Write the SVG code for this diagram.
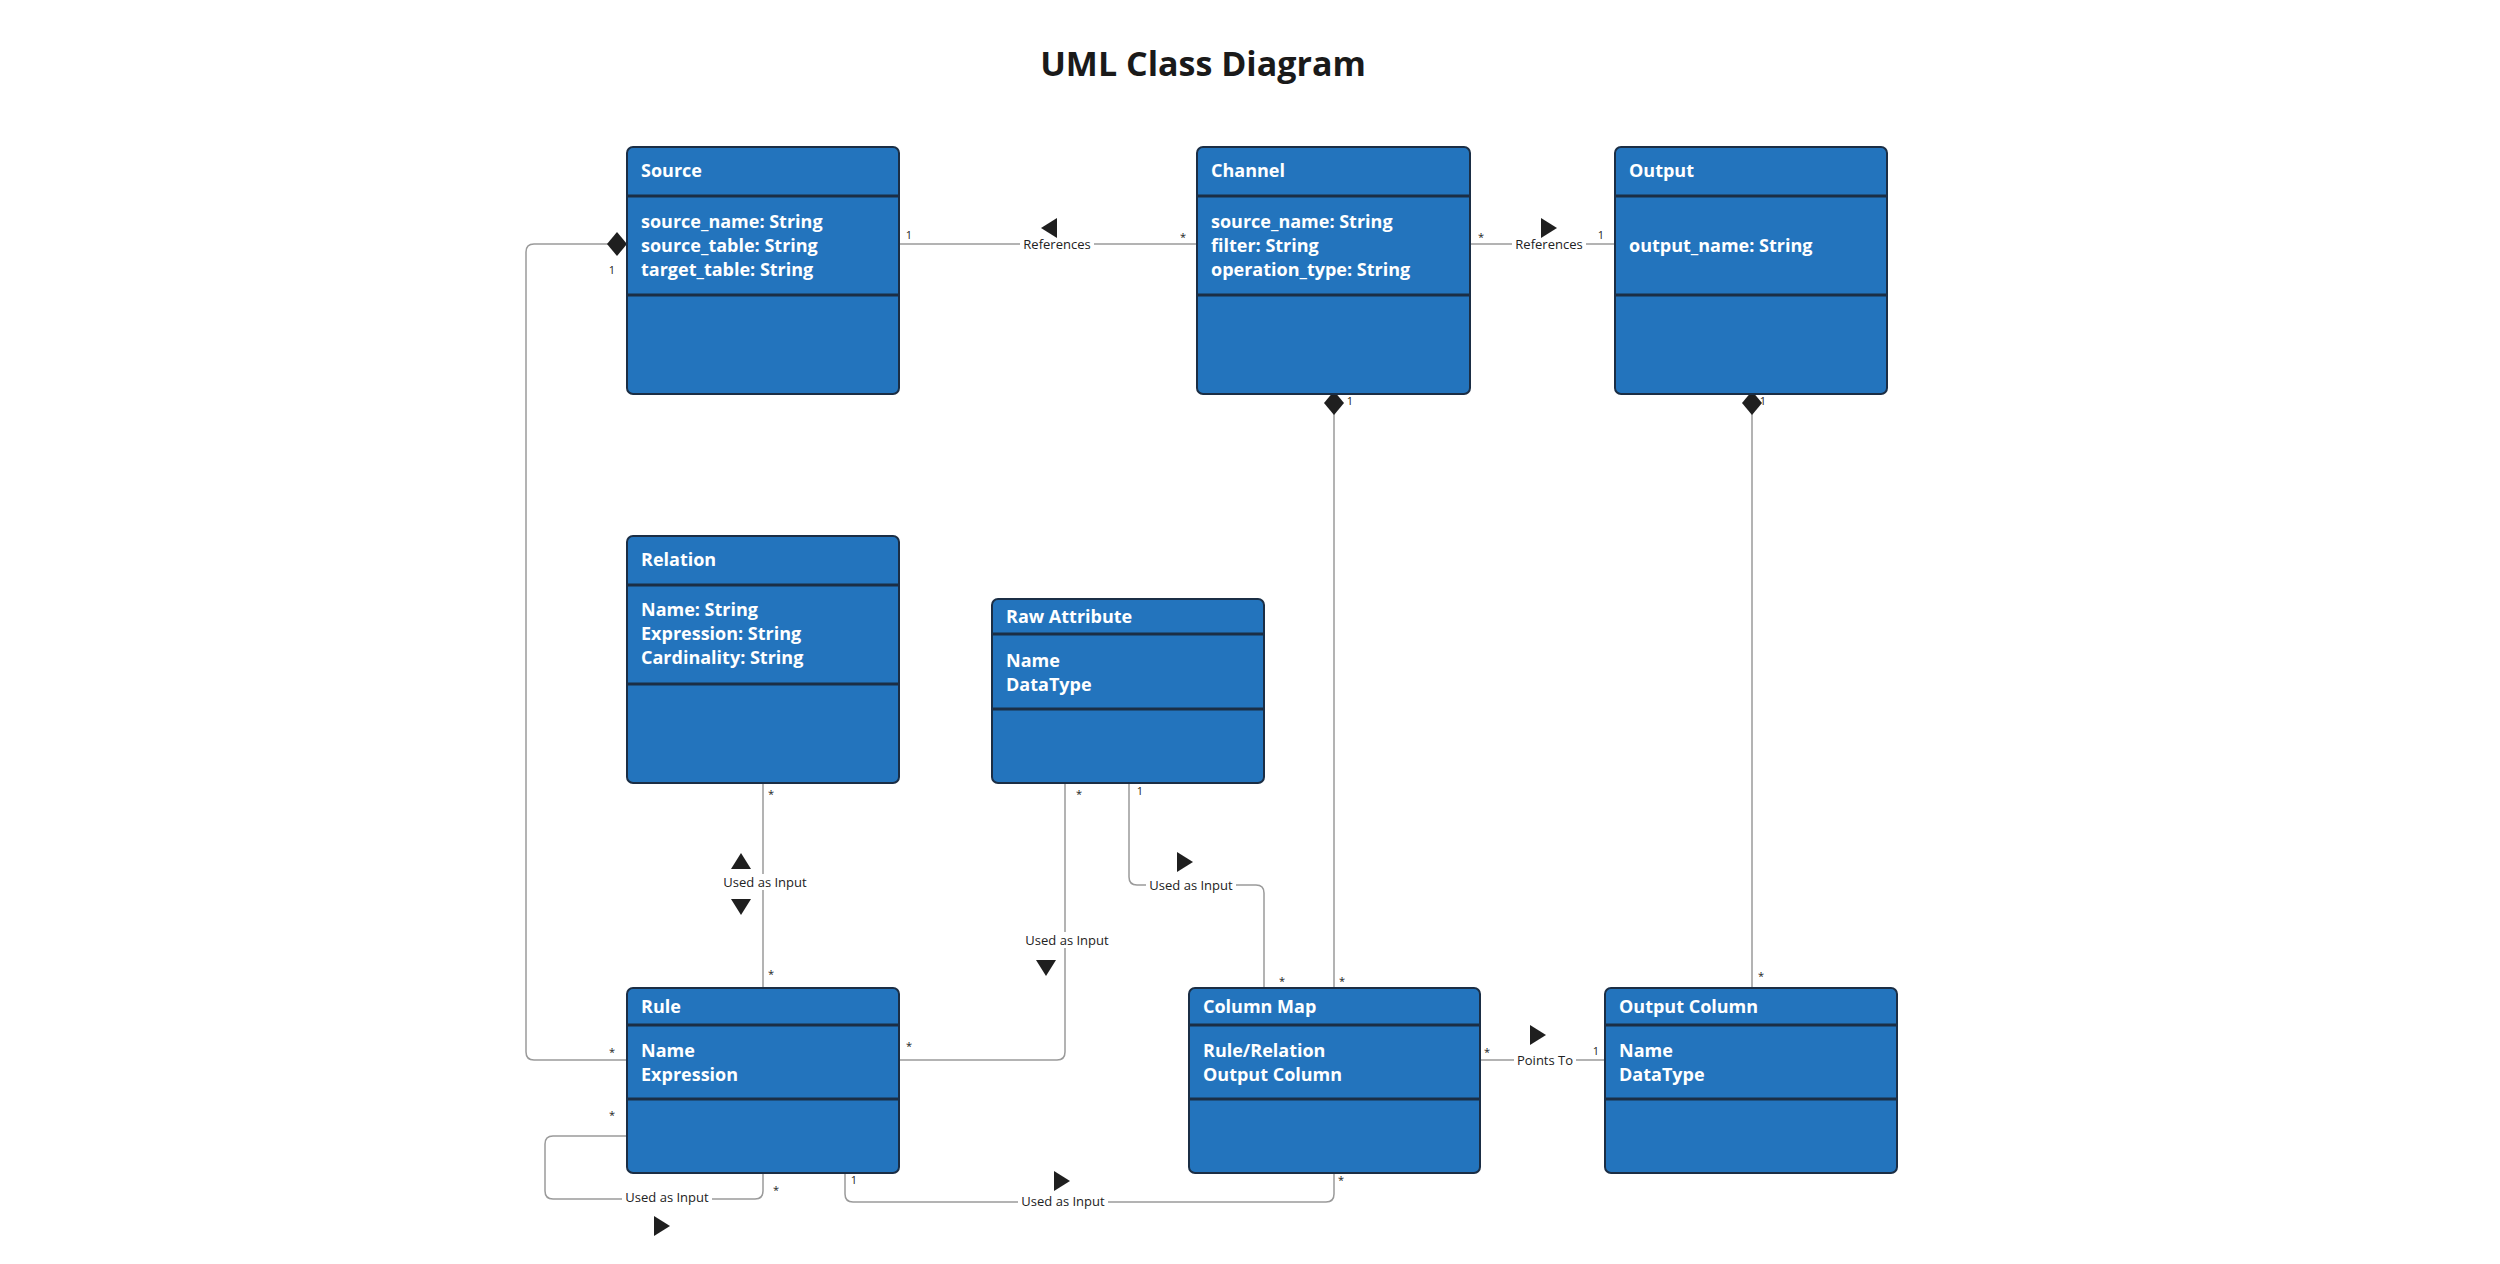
<svg xmlns="http://www.w3.org/2000/svg" width="2500" height="1264" viewBox="0 0 2500 1264">
<style>
.box{fill:#2374bd;stroke:#1b2e45;stroke-width:2}
.sep{stroke:#1b2e45;stroke-width:3}
.t{font-family:"Open Sans","Noto Sans",sans-serif;font-weight:bold;fill:#fff;font-size:18px}
.c{fill:none;stroke:#9a9a9a;stroke-width:1.5}
.lb{font-family:"Open Sans","Noto Sans",sans-serif;font-size:13px;fill:#222;text-anchor:middle}
.m{font-family:"Open Sans","Noto Sans",sans-serif;font-size:11px;fill:#222;text-anchor:middle}
.ar{fill:#1f1f1f}
.bg{fill:#fff}
</style>
<rect width="2500" height="1264" fill="#fff"/>
<text x="1203" y="76" font-family="Open Sans,Noto Sans,sans-serif" font-weight="bold" font-size="34" text-anchor="middle" fill="#1a1a1a">UML Class Diagram</text>
<g id="connectors">
<path class="c" d="M899 244H1197"/>
<path class="c" d="M1470 244H1615"/>
<path class="c" d="M617 244H534Q526 244 526 252V1052Q526 1060 534 1060H627"/>
<path class="c" d="M763 783V988"/>
<path class="c" d="M1065 783V1052Q1065 1060 1057 1060H899"/>
<path class="c" d="M1129 783V877Q1129 885 1137 885H1256Q1264 885 1264 893V988"/>
<path class="c" d="M1334 413V988"/>
<path class="c" d="M1752 413V988"/>
<path class="c" d="M1480 1060H1605"/>
<path class="c" d="M627 1136H553Q545 1136 545 1144V1191Q545 1199 553 1199H755Q763 1199 763 1191V1173"/>
<path class="c" d="M845 1173V1194Q845 1202 853 1202H1326Q1334 1202 1334 1194V1173"/>
<polygon class="ar" points="607,244 617,232 627,244 617,256"/>
<polygon class="ar" points="1324,403 1334,391 1344,403 1334,415"/>
<polygon class="ar" points="1742,403 1752,391 1762,403 1752,415"/>
<rect class="bg" x="1020" y="236" width="74" height="16"/><text class="lb" x="1057" y="249">References</text>
<rect class="bg" x="1512" y="236" width="74" height="16"/><text class="lb" x="1549" y="249">References</text>
<rect class="bg" x="720" y="874" width="90" height="16"/><text class="lb" x="765" y="887">Used as Input</text>
<rect class="bg" x="1022" y="932" width="90" height="16"/><text class="lb" x="1067" y="945">Used as Input</text>
<rect class="bg" x="1146" y="877" width="90" height="16"/><text class="lb" x="1191" y="890">Used as Input</text>
<rect class="bg" x="1514" y="1052" width="62" height="16"/><text class="lb" x="1545" y="1065">Points To</text>
<rect class="bg" x="622" y="1191" width="90" height="16"/><text class="lb" x="667" y="1202">Used as Input</text>
<rect class="bg" x="1018" y="1194" width="90" height="16"/><text class="lb" x="1063" y="1206">Used as Input</text>
<polygon class="ar" points="1041,228 1057,218 1057,238"/>
<polygon class="ar" points="1557,228 1541,218 1541,238"/>
<polygon class="ar" points="741,853 731,869 751,869"/>
<polygon class="ar" points="741,915 731,899 751,899"/>
<polygon class="ar" points="1046,976 1036,960 1056,960"/>
<polygon class="ar" points="1193,862 1177,852 1177,872"/>
<polygon class="ar" points="1546,1035 1530,1025 1530,1045"/>
<polygon class="ar" points="670,1226 654,1216 654,1236"/>
<polygon class="ar" points="1070,1181 1054,1171 1054,1191"/>
<text class="m" x="909" y="239">1</text><text class="m" x="1183" y="241">*</text>
<text class="m" x="1481" y="241">*</text><text class="m" x="1601" y="239">1</text>
<text class="m" x="612" y="274">1</text><text class="m" x="612" y="1056">*</text>
<text class="m" x="771" y="798">*</text><text class="m" x="771" y="978">*</text>
<text class="m" x="1079" y="798">*</text><text class="m" x="909" y="1050">*</text>
<text class="m" x="1140" y="795">1</text><text class="m" x="1282" y="985">*</text>
<text class="m" x="1350" y="405">1</text><text class="m" x="1342" y="985">*</text>
<text class="m" x="1763" y="405">1</text><text class="m" x="1761" y="980">*</text>
<text class="m" x="1487" y="1056">*</text><text class="m" x="1596" y="1055">1</text>
<text class="m" x="612" y="1119">*</text><text class="m" x="776" y="1194">*</text>
<text class="m" x="854" y="1184">1</text><text class="m" x="1341" y="1184">*</text>
</g>
<g id="source"><rect class="box" x="627" y="147" width="272" height="247" rx="6"/><path class="sep" d="M627 196H899M627 295H899"/>
<text class="t" x="641" y="177">Source</text><text class="t" x="641" y="228">source_name: String</text><text class="t" x="641" y="252">source_table: String</text><text class="t" x="641" y="276">target_table: String</text></g>
<g id="channel"><rect class="box" x="1197" y="147" width="273" height="247" rx="6"/><path class="sep" d="M1197 196H1470M1197 295H1470"/>
<text class="t" x="1211" y="177">Channel</text><text class="t" x="1211" y="228">source_name: String</text><text class="t" x="1211" y="252">filter: String</text><text class="t" x="1211" y="276">operation_type: String</text></g>
<g id="output"><rect class="box" x="1615" y="147" width="272" height="247" rx="6"/><path class="sep" d="M1615 196H1887M1615 295H1887"/>
<text class="t" x="1629" y="177">Output</text><text class="t" x="1629" y="252">output_name: String</text></g>
<g id="relation"><rect class="box" x="627" y="536" width="272" height="247" rx="6"/><path class="sep" d="M627 585H899M627 684H899"/>
<text class="t" x="641" y="566">Relation</text><text class="t" x="641" y="616">Name: String</text><text class="t" x="641" y="640">Expression: String</text><text class="t" x="641" y="664">Cardinality: String</text></g>
<g id="rawattr"><rect class="box" x="992" y="599" width="272" height="184" rx="6"/><path class="sep" d="M992 634H1264M992 709H1264"/>
<text class="t" x="1006" y="623">Raw Attribute</text><text class="t" x="1006" y="667">Name</text><text class="t" x="1006" y="691">DataType</text></g>
<g id="rule"><rect class="box" x="627" y="988" width="272" height="185" rx="6"/><path class="sep" d="M627 1025H899M627 1099H899"/>
<text class="t" x="641" y="1013">Rule</text><text class="t" x="641" y="1057">Name</text><text class="t" x="641" y="1081">Expression</text></g>
<g id="columnmap"><rect class="box" x="1189" y="988" width="291" height="185" rx="6"/><path class="sep" d="M1189 1025H1480M1189 1099H1480"/>
<text class="t" x="1203" y="1013">Column Map</text><text class="t" x="1203" y="1057">Rule/Relation</text><text class="t" x="1203" y="1081">Output Column</text></g>
<g id="outputcolumn"><rect class="box" x="1605" y="988" width="292" height="185" rx="6"/><path class="sep" d="M1605 1025H1897M1605 1099H1897"/>
<text class="t" x="1619" y="1013">Output Column</text><text class="t" x="1619" y="1057">Name</text><text class="t" x="1619" y="1081">DataType</text></g>
</svg>
